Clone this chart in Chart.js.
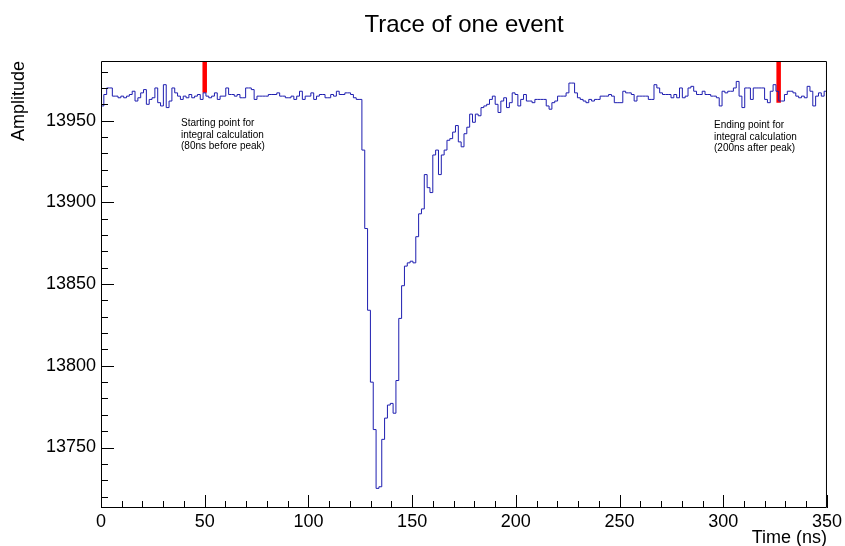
<!DOCTYPE html>
<html lang="en">
<head>
<meta charset="UTF-8">
<title>Trace of one event</title>
<script src="https://cdn.jsdelivr.net/npm/chart.js"></script>
<style>
    html, body { margin: 0; padding: 0; background: #fff; }
    canvas { display: block; }
</style>
</head>
<body>
<canvas id="trace" width="845" height="546"></canvas>
<script>
const timeMin = 0;
const timeMax = 350;
const amplitude = [
    13959, 13966, 13970, 13970, 13965, 13965, 13964, 13965, 13964, 13965,
    13966, 13968, 13962, 13964, 13967, 13969, 13960, 13963, 13964, 13970,
    13961, 13959, 13972, 13958, 13962, 13970, 13967, 13965, 13963, 13965,
    13964, 13966, 13964, 13965, 13966, 13963, 13967, 13965, 13964, 13965,
    13967, 13963, 13965, 13965, 13970, 13966, 13966, 13965, 13966, 13964,
    13964, 13970, 13970, 13969, 13963, 13965, 13965, 13965, 13965, 13966,
    13966, 13966, 13967, 13965, 13965, 13964, 13964, 13965, 13963, 13965,
    13968, 13963, 13965, 13965, 13967, 13963, 13965, 13966, 13966, 13964,
    13964, 13966, 13965, 13968, 13966, 13966, 13967, 13967, 13966, 13964,
    13963, 13963, 13932, 13884, 13834, 13790, 13761, 13725, 13726, 13755,
    13768, 13776, 13777, 13771, 13791, 13829, 13849, 13861, 13863, 13864,
    13863, 13879, 13893, 13896, 13917, 13909, 13906, 13929, 13932, 13917,
    13929, 13932, 13938, 13939, 13943, 13947, 13937, 13934, 13942, 13946,
    13954, 13949, 13954, 13953, 13958, 13959, 13960, 13963, 13965, 13960,
    13955, 13962, 13964, 13958, 13961, 13967, 13966, 13959, 13963, 13966,
    13962, 13962, 13961, 13963, 13963, 13963, 13963, 13959, 13957, 13961,
    13962, 13965, 13965, 13965, 13967, 13973, 13973, 13967, 13964, 13963,
    13962, 13961, 13963, 13962, 13963, 13963, 13965, 13965, 13965, 13966,
    13965, 13961, 13961, 13961, 13968, 13967, 13967, 13966, 13962, 13965,
    13965, 13965, 13965, 13963, 13963, 13972, 13970, 13967, 13966, 13966,
    13966, 13964, 13966, 13964, 13970, 13964, 13965, 13970, 13971, 13968,
    13966, 13966, 13968, 13966, 13966, 13965, 13965, 13964, 13959, 13968,
    13967, 13968, 13968, 13970, 13974, 13965, 13958, 13970, 13970, 13963,
    13970, 13970, 13970, 13970, 13963, 13961, 13968, 13972, 13968, 13962,
    13962, 13966, 13968, 13968, 13967, 13965, 13964, 13965, 13964, 13971,
    13968, 13959, 13965, 13967, 13965, 13968
];

// axis ranges and labelled ticks
const yMin = 13713;
const yMax = 13986.5;
const xTicks = [0, 50, 100, 150, 200, 250, 300, 350];
const yTicks = [13750, 13800, 13850, 13900, 13950];

// integration window markers (red bars from the frame top down to the trace)
const markerTimes = [50, 326.7];
const markerBottoms = [13967, 13961];

const noteStart = ['Starting point for', 'integral calculation', '(80ns before peak)'];
const noteEnd = ['Ending point for', 'integral calculation', '(200ns after peak)'];

const binWidth = (timeMax - timeMin) / amplitude.length;
const tracePoints = amplitude.map((v, i) => ({ x: timeMin + i * binWidth, y: v }));
tracePoints.push({ x: timeMax, y: amplitude[amplitude.length - 1] });

const FONT = '"Liberation Sans", Arial, Helvetica, sans-serif';
Chart.defaults.font.family = FONT;
Chart.defaults.color = '#000';

// ROOT style frame: box, inward ticks, title, axis titles, notes
const rootFrame = {
    id: 'rootFrame',
    afterDraw(chart) {
        const { ctx, chartArea: a } = chart;
        const xs = chart.scales.x, ys = chart.scales.y;
        ctx.save();
        ctx.strokeStyle = '#000';
        ctx.lineWidth = 1;
        ctx.beginPath();
        ctx.rect(a.left + 0.5, a.top + 0.5, a.right - a.left - 1, a.bottom - a.top - 1);
        for (let t = timeMin; t <= timeMax; t += 10) {
            const px = Math.round(xs.getPixelForValue(t)) + 0.5;
            const len = t % 50 === 0 ? 13 : 7;
            ctx.moveTo(px, a.bottom);
            ctx.lineTo(px, a.bottom - len);
        }
        for (let v = 13720; v <= yMax; v += 10) {
            const py = Math.round(ys.getPixelForValue(v)) + 0.5;
            const len = v % 50 === 0 ? 13 : 7;
            ctx.moveTo(a.left, py);
            ctx.lineTo(a.left + len, py);
        }
        ctx.stroke();

        ctx.fillStyle = '#000';
        ctx.font = '24px ' + FONT;
        ctx.textAlign = 'center';
        ctx.textBaseline = 'alphabetic';
        ctx.fillText('Trace of one event', (a.left + a.right) / 2, 32);

        ctx.font = '18px ' + FONT;
        ctx.textAlign = 'right';
        ctx.fillText('Time (ns)', a.right, 543);

        ctx.save();
        ctx.translate(24, a.top);
        ctx.rotate(-Math.PI / 2);
        ctx.textAlign = 'right';
        ctx.fillText('Amplitude', 0, 0);
        ctx.restore();

        ctx.font = '10px ' + FONT;
        ctx.textAlign = 'left';
        noteStart.forEach((s, i) => ctx.fillText(s, 181, 126 + i * 11.7));
        noteEnd.forEach((s, i) => ctx.fillText(s, 714, 128 + i * 11.7));
        ctx.restore();
    }
};

new Chart(document.getElementById('trace'), {
    type: 'line',
    data: {
        datasets: [
            {
                data: tracePoints,
                borderColor: '#1e1eb0',
                borderWidth: 1,
                pointRadius: 0,
                stepped: 'before',
                tension: 0
            },
            ...markerTimes.map((t, i) => ({
                data: [{ x: t, y: yMax }, { x: t, y: markerBottoms[i] }],
                borderColor: '#ff0000',
                borderWidth: 4.5,
                pointRadius: 0
            }))
        ]
    },
    options: {
        responsive: false,
        animation: false,
        devicePixelRatio: 1,
        layout: { padding: { left: 0, right: 18, top: 61, bottom: 0 } },
        plugins: { legend: { display: false }, tooltip: { enabled: false }, title: { display: false } },
        scales: {
            x: {
                type: 'linear',
                min: timeMin,
                max: timeMax,
                grid: { display: false, drawTicks: false },
                border: { display: false },
                afterBuildTicks: s => { s.ticks = xTicks.map(v => ({ value: v })); },
                afterFit: s => { s.height = 38; },
                ticks: { font: { size: 18 }, padding: 3, maxRotation: 0, autoSkip: false, callback: v => String(v) }
            },
            y: {
                type: 'linear',
                min: yMin,
                max: yMax,
                grid: { display: false, drawTicks: false },
                border: { display: false },
                afterBuildTicks: s => { s.ticks = yTicks.map(v => ({ value: v })); },
                afterFit: s => { s.width = 101; },
                ticks: { font: { size: 18 }, padding: 5, autoSkip: false, callback: v => String(v) }
            }
        }
    },
    plugins: [rootFrame]
});
</script>
</body>
</html>
